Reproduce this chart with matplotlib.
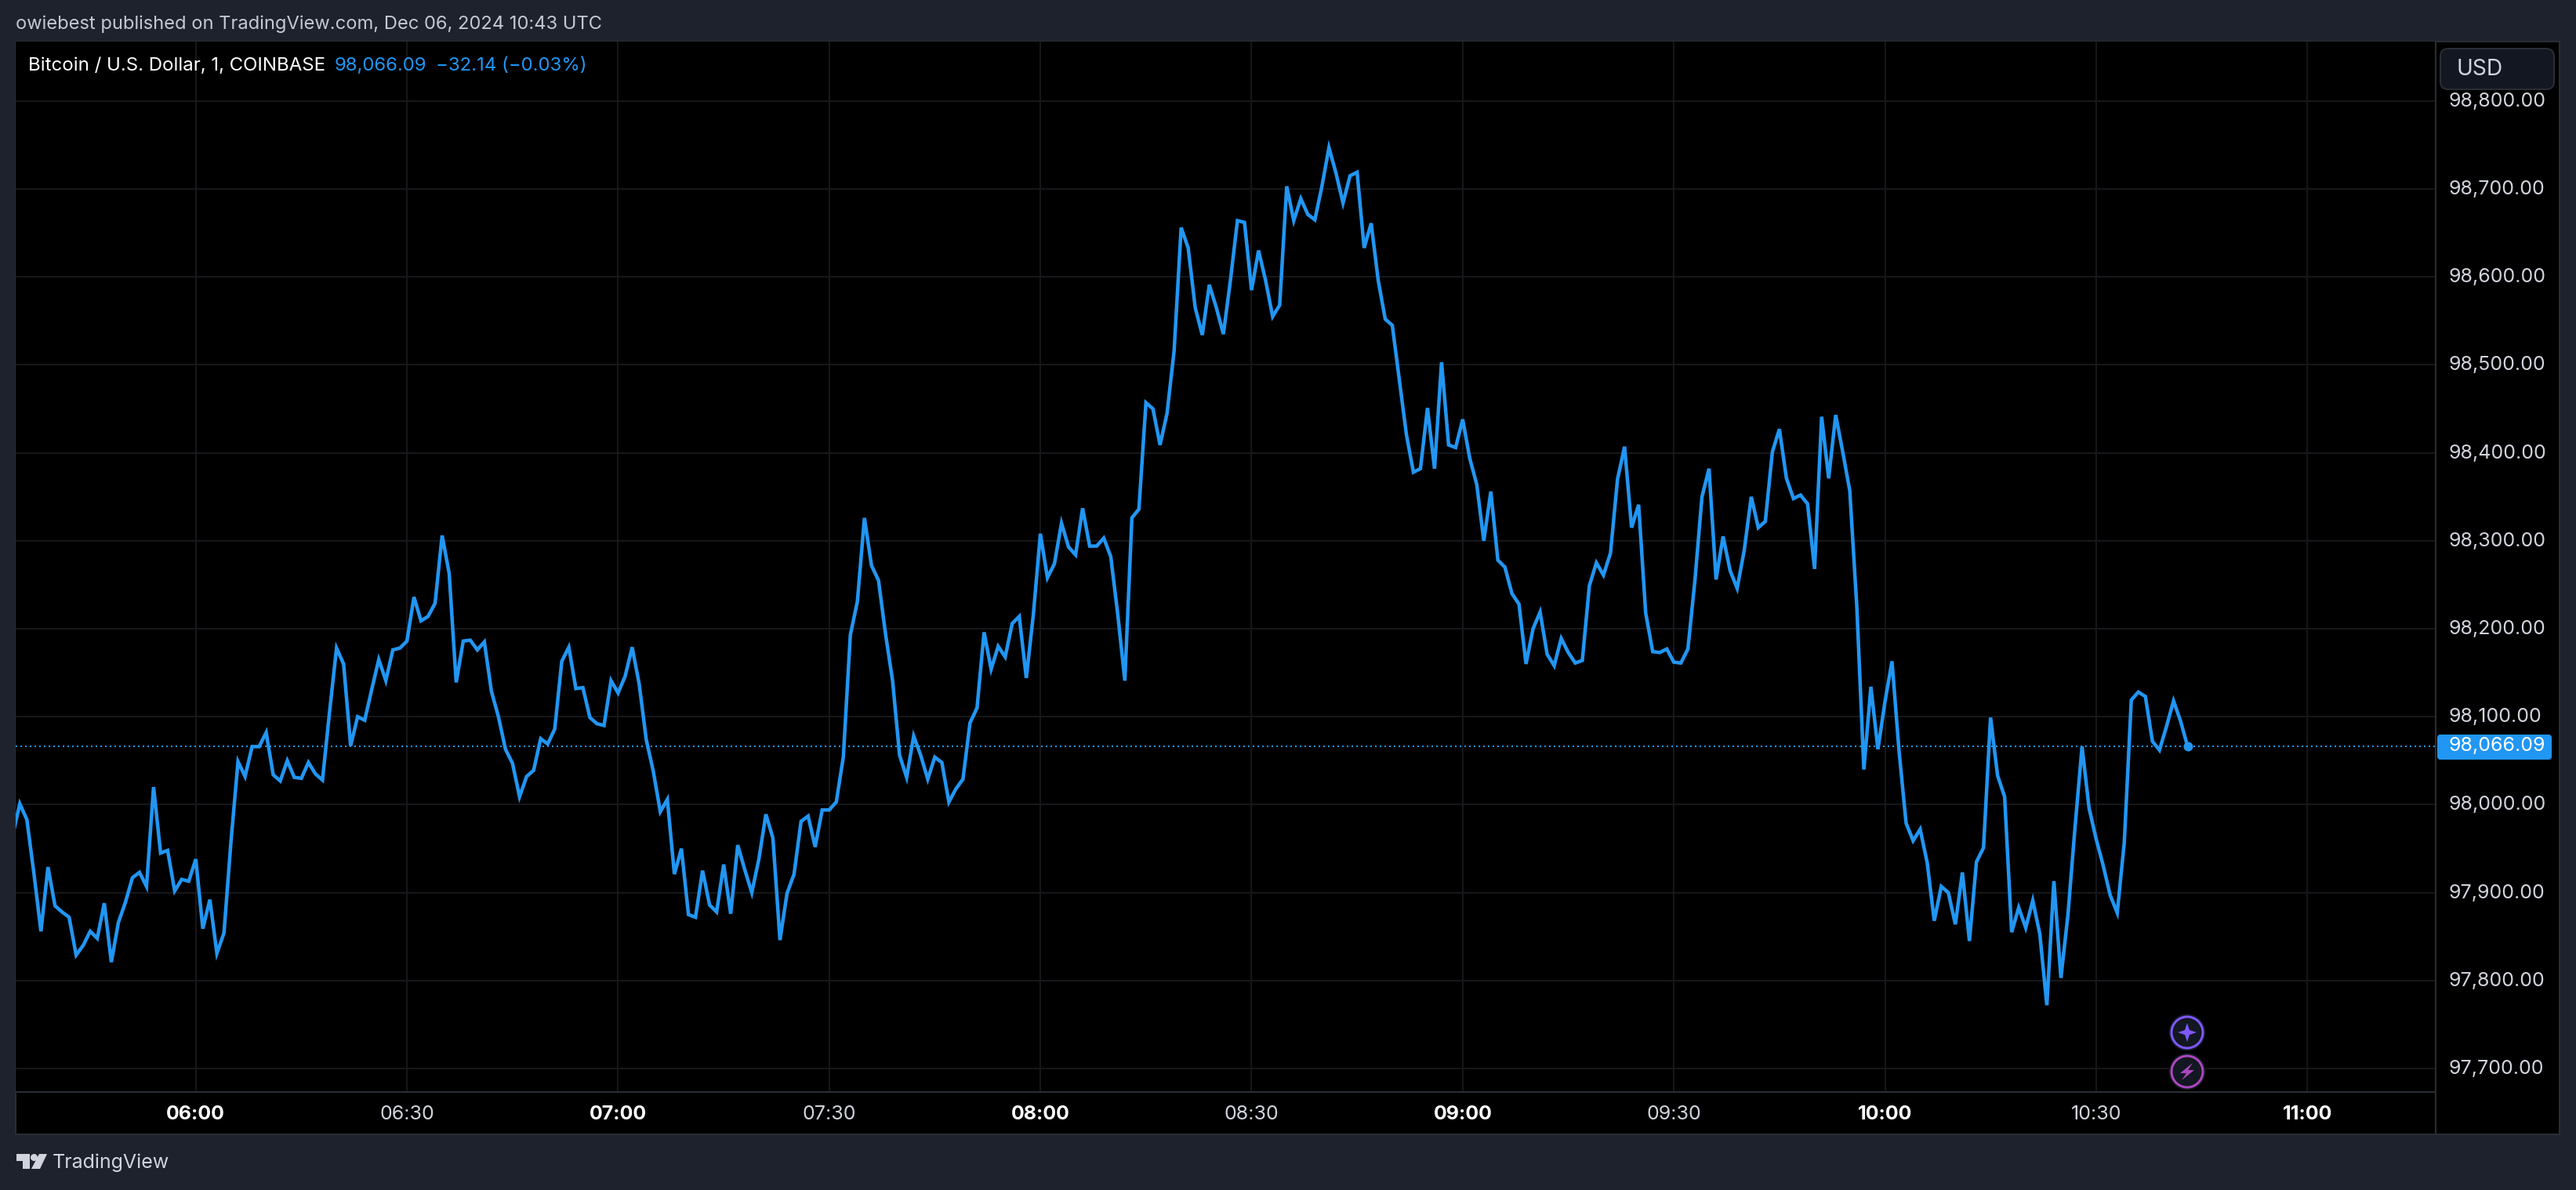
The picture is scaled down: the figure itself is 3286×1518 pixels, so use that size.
import numpy as np
import matplotlib
matplotlib.use('Agg')
import matplotlib.pyplot as plt
from matplotlib.patches import Rectangle, FancyBboxPatch, Ellipse, Polygon
from matplotlib.transforms import Affine2D

plt.rcParams['font.family'] = ['Inter', 'DejaVu Sans']

# 1 minute closes, first one is 05:34
start_minute = -26
prices = [
    97966, 98001, 97983, 97922, 97856, 97929, 97885, 97878, 97872, 97829,
    97840, 97856, 97848, 97888, 97821, 97866, 97889, 97917, 97923, 97907,
    98020, 97945, 97948, 97902, 97915, 97913, 97938, 97859, 97892, 97831,
    97854, 97958, 98049, 98032, 98066, 98066, 98082, 98034, 98027, 98050,
    98031, 98030, 98048, 98035, 98028, 98105, 98178, 98160, 98067, 98100,
    98096, 98131, 98165, 98141, 98176, 98178, 98186, 98236, 98209, 98214,
    98229, 98306, 98263, 98139, 98186, 98187, 98176, 98185, 98129, 98100,
    98063, 98047, 98009, 98032, 98039, 98075, 98069, 98086, 98163, 98179,
    98132, 98133, 98099, 98092, 98090, 98141, 98127, 98146, 98179, 98137,
    98074, 98038, 97992, 98006, 97921, 97950, 97875, 97872, 97925, 97886,
    97878, 97932, 97876, 97954, 97926, 97900, 97938, 97989, 97962, 97846,
    97899, 97921, 97981, 97987, 97952, 97994, 97994, 98003, 98054, 98193,
    98231, 98326, 98272, 98255, 98194, 98141, 98056, 98031, 98078, 98056,
    98029, 98054, 98048, 98003, 98018, 98029, 98093, 98110, 98196, 98154,
    98180, 98168, 98206, 98214, 98144, 98216, 98308, 98258, 98274, 98320,
    98293, 98284, 98337, 98294, 98294, 98303, 98282, 98216, 98141, 98326,
    98336, 98457, 98450, 98409, 98445, 98516, 98656, 98633, 98565, 98534,
    98591, 98565, 98535, 98596, 98664, 98662, 98585, 98630, 98596, 98555,
    98568, 98703, 98664, 98689, 98671, 98665, 98703, 98747, 98718, 98684,
    98715, 98719, 98633, 98661, 98596, 98552, 98545, 98483, 98421, 98378,
    98382, 98451, 98382, 98503, 98409, 98406, 98438, 98394, 98364, 98300,
    98356, 98278, 98270, 98240, 98228, 98160, 98200, 98219, 98171, 98158,
    98189, 98173, 98161, 98164, 98249, 98275, 98261, 98286, 98370, 98407,
    98315, 98341, 98218, 98174, 98173, 98177, 98162, 98161, 98177, 98255,
    98350, 98382, 98256, 98305, 98266, 98246, 98289, 98350, 98315, 98322,
    98401, 98427, 98371, 98348, 98352, 98342, 98268, 98441, 98371, 98443,
    98401, 98357, 98225, 98040, 98134, 98063, 98117, 98163, 98061, 97979,
    97959, 97972, 97934, 97868, 97907, 97900, 97864, 97923, 97845, 97935,
    97951, 98099, 98033, 98009, 97855, 97883, 97860, 97891, 97853, 97772,
    97913, 97803, 97875, 97974, 98066, 97996, 97961, 97931, 97897, 97877,
    97957, 98119, 98128, 98123, 98072, 98062, 98089, 98118, 98095, 98066.09,
]
last_price = 98066.09
x_ticks = [0, 30, 60, 90, 120, 150, 180, 210, 240, 270, 300]
x_labels = ['06:00', '06:30', '07:00', '07:30', '08:00', '08:30', '09:00',
            '09:30', '10:00', '10:30', '11:00']
y_ticks = [97700, 97800, 97900, 98000, 98100, 98200, 98300, 98400, 98500,
           98600, 98700, 98800]

W, H = 3286, 1518
BG = '#1e222d'
BORDER = '#2a2d33'
GRID = '#16171a'
BLUE = '#2196f3'
LABEL = '#d1d4dc'

# pixel coords of the screenshot, y going down. used for the frame only
px = Affine2D().scale(1, -1).translate(0, H)


def pt(n):
    return n * 0.72


fig = plt.figure(figsize=(W / 100, H / 100), dpi=100, facecolor=BG)
fig.patches.append(Rectangle((20, 53), 3245, 1394, transform=px, facecolor='black',
                             edgecolor=BORDER, linewidth=pt(2), zorder=-1))

left, right, top, bottom = 20, 3106.6, 53, 1393
ax = fig.add_axes([left / W, 1 - bottom / H, (right - left) / W, (bottom - top) / H])
ax.set_facecolor('black')

minutes = np.arange(start_minute, start_minute + len(prices))
ax.plot(minutes, prices, color=BLUE, linewidth=pt(4.5), solid_joinstyle='miter', zorder=3)
ax.plot(minutes[-1], prices[-1], 'o', color=BLUE, markersize=pt(12), markeredgewidth=0, zorder=4)
ax.axhline(last_price, color=BLUE, linewidth=pt(2), linestyle=(0, (1, 2)), zorder=2)

ax.set_xlim(-25.59, 318.2)
ax.set_ylim(97673.3, 98867.6)
ax.set_xticks(x_ticks)
ax.set_xticklabels(x_labels)
ax.set_yticks(y_ticks)
ax.set_yticklabels([f'{v:,.2f}' for v in y_ticks])
ax.yaxis.tick_right()
ax.grid(True, color=GRID, linewidth=pt(2))
ax.set_axisbelow(True)
ax.tick_params(axis='x', length=0, pad=pt(17), labelsize=pt(25), labelcolor=LABEL)
ax.tick_params(axis='y', length=0, pad=pt(17), labelsize=pt(25), labelcolor=LABEL)
for label, tick in zip(ax.get_xticklabels(), x_ticks):
    if tick % 60 == 0:
        label.set_fontweight('bold')
        label.set_color('white')
# price labels sit a little above their grid line
for label in ax.get_yticklabels():
    label.set_transform(label.get_transform() + Affine2D().translate(0, 2))
for name, spine in ax.spines.items():
    spine.set_visible(name in ('right', 'bottom'))
    spine.set_color(BORDER)
    spine.set_linewidth(pt(2))

# separator under the price scale down to the panel bottom
ax.add_artist(plt.Line2D([right, right], [bottom, 1447], transform=px, color=BORDER,
                         linewidth=pt(2), clip_on=False))

# last price tag
ax.add_patch(FancyBboxPatch((3110, 938), 144, 30, boxstyle='round,pad=0,rounding_size=3', transform=px,
                            facecolor=BLUE, edgecolor=BLUE, linewidth=pt(2), clip_on=False, zorder=6))
ax.text(3123.6, 951.5, f'{last_price:,.2f}', transform=px, color='white', fontsize=pt(25),
        va='center', ha='left', zorder=7, clip_on=False)

# USD button sits on top of the 98,800 label
ax.add_patch(FancyBboxPatch((3113, 62), 145, 52, boxstyle='round,pad=0,rounding_size=10', transform=px,
                            facecolor='#131722', edgecolor=BORDER, linewidth=pt(2), clip_on=False, zorder=6))
ax.text(3133, 88, 'USD', transform=px, color=LABEL, fontsize=pt(28), va='center', ha='left',
        zorder=7, clip_on=False)

# header, legend line, footer
ax.text(20, 31, 'owiebest published on TradingView.com, Dec 06, 2024 10:43 UTC', transform=px,
        color='#c5c8d2', fontsize=pt(23.7), va='center', clip_on=False)
ax.text(36, 84, 'Bitcoin / U.S. Dollar, 1, COINBASE', transform=px, color='white',
        fontsize=pt(24), va='center', clip_on=False, zorder=7)
ax.text(427, 84, '98,066.09', transform=px, color=BLUE, fontsize=pt(24), va='center', clip_on=False, zorder=7)
ax.text(556, 84, '\u221232.14 (\u22120.03%)', transform=px, color=BLUE, fontsize=pt(24), va='center',
        clip_on=False, zorder=7)
ax.text(67, 1483, 'TradingView', transform=px, color=LABEL, fontsize=pt(25), va='center', clip_on=False)

# logo
ax.add_patch(Polygon([(21, 1472), (38, 1472), (38, 1491), (29, 1491), (29, 1481), (21, 1481)],
                     transform=px, facecolor=LABEL, edgecolor='none', clip_on=False))
ax.add_patch(Ellipse((43.5, 1476.5), 9, 9, transform=px, facecolor=LABEL, edgecolor='none', clip_on=False))
ax.add_patch(Polygon([(50, 1472), (60, 1472), (51, 1491), (40, 1491)],
                     transform=px, facecolor=LABEL, edgecolor='none', clip_on=False))

# event badges below the last bar
for cy in (1317, 1367):
    ax.add_patch(Ellipse((2790, cy), 47, 47, transform=px, facecolor='#131722', edgecolor='none',
                         clip_on=False, zorder=5))
ax.add_patch(Ellipse((2790, 1317), 40, 40, transform=px, facecolor='#131722', edgecolor='#7e57ff',
                     linewidth=pt(3), clip_on=False, zorder=6))
star = [(2790, 1305), (2793, 1314), (2802, 1317), (2793, 1320), (2790, 1329), (2787, 1320), (2778, 1317), (2787, 1314)]
ax.add_patch(Polygon(star, transform=px, facecolor='#7e57ff', edgecolor='none', clip_on=False, zorder=7))
ax.add_patch(Ellipse((2790, 1367), 40, 40, transform=px, facecolor='#131722', edgecolor='#ab47bc',
                     linewidth=pt(3), clip_on=False, zorder=6))
bolt = [(2797, 1356), (2781, 1369), (2789, 1369), (2783, 1378), (2799, 1365), (2791, 1365)]
ax.add_patch(Polygon(bolt, transform=px, facecolor='#ab47bc', edgecolor='none', clip_on=False, zorder=7))

fig.savefig('out.png', dpi=100, facecolor=BG)
